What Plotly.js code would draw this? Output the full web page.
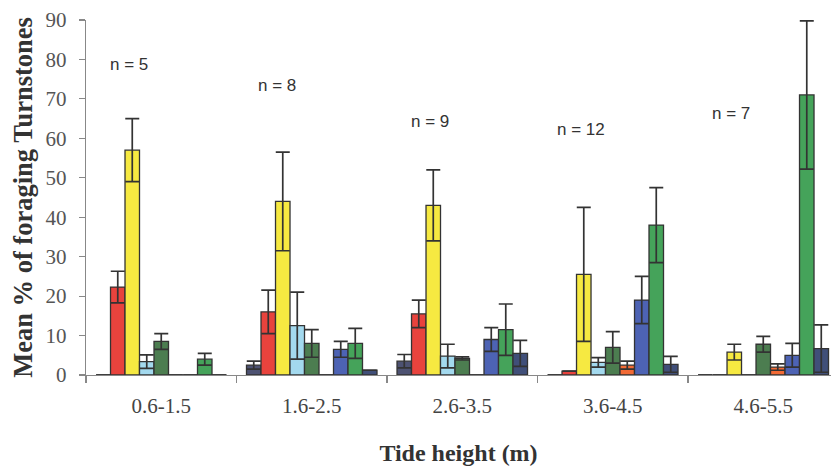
<!DOCTYPE html>
<html>
<head>
<meta charset="utf-8">
<script src="https://cdn.plot.ly/plotly-3.0.1.min.js"></script>
<style>html,body{margin:0;padding:0;background:#fff;}#chart{width:831px;height:469px;}</style>
</head>
<body>
<div id="chart"></div>
<script>
// Tide height classes
var categories = ['0.6-1.5', '1.6-2.5', '2.6-3.5', '3.6-4.5', '4.6-5.5'];
var sampleSizes = ['n = 5', 'n = 8', 'n = 9', 'n = 12', 'n = 7'];

// Mean % of foraging Turnstones per series (9 series per tide class)
var s1 = [0, 2.5, 3.5, 0, 0];
var s1Err = [0, 1, 1.7, 0, 0];
var s2 = [22.3, 16, 15.5, 1, 0];
var s2Err = [4, 5.5, 3.5, 0, 0];
var s3 = [57, 44, 43, 25.5, 5.8];
var s3Err = [8, 12.5, 9, 17, 2];
var s4 = [3.4, 12.5, 4.8, 3.2, 0];
var s4Err = [1.7, 8.5, 3, 1.2, 0];
var s5 = [8.5, 8, 4.2, 7, 7.8];
var s5Err = [2, 3.5, 0.4, 4, 2];
var s6 = [0, 0, 0, 2.5, 2];
var s6Err = [0, 0, 0, 1, 0.8];
var s7 = [0, 6.5, 9, 19, 5];
var s7Err = [0, 2, 3, 6, 3];
var s8 = [4, 8, 11.5, 38, 71];
var s8Err = [1.5, 3.8, 6.5, 9.5, 18.8];
var s9 = [0, 1.2, 5.5, 2.7, 6.7];
var s9Err = [0, 0, 3.3, 2, 6];

var seriesNames = ['Series 1', 'Series 2', 'Series 3', 'Series 4', 'Series 5', 'Series 6', 'Series 7', 'Series 8', 'Series 9'];
var seriesValues = [s1, s2, s3, s4, s5, s6, s7, s8, s9];
var seriesErrors = [s1Err, s2Err, s3Err, s4Err, s5Err, s6Err, s7Err, s8Err, s9Err];
var colors = ['#4d5272', '#e8433d', '#f6e941', '#a3d9ee', '#4c7d50', '#f26a35', '#4d63b4', '#45a35a', '#404f79'];

// annotation positions (category index offset, y value)
var nPosX = [-0.214, 0.769, 1.786, 2.789, 3.786];
var nPosY = [78.7, 73.4, 64.3, 62.3, 66.3];

var traces = seriesValues.map(function (vals, i) {
  return {
    type: 'bar',
    name: seriesNames[i],
    x: categories,
    y: vals,
    cliponaxis: false,
    marker: {color: colors[i], line: {color: '#333', width: 1.3}},
    error_y: {type: 'data', array: seriesErrors[i], visible: true, symmetric: true,
              color: '#333', thickness: 1.7, width: 7},
    hoverinfo: 'x+y+name'
  };
});

var serif = 'Liberation Serif, Times New Roman, serif';

var annotations = sampleSizes.map(function (t, i) {
  return {
    text: t, xref: 'x', yref: 'y', x: nPosX[i], y: nPosY[i],
    showarrow: false, xanchor: 'center', yanchor: 'middle',
    font: {family: 'Liberation Sans, Arial, sans-serif', size: 17, color: '#333'}
  };
});

var layout = {
  width: 831, height: 469,
  margin: {l: 86, r: 0, t: 20, b: 94, pad: 0},
  paper_bgcolor: '#fff', plot_bgcolor: '#fff',
  barmode: 'group', bargap: 0.133, bargroupgap: 0,
  showlegend: false,
  xaxis: {
    type: 'category', range: [-0.5, 4.45],
    showline: true, linecolor: '#888', linewidth: 1.2,
    ticks: 'outside', tickson: 'boundaries', ticklen: 7, tickcolor: '#888', tickwidth: 1.2,
    showgrid: false, zeroline: false,
    tickfont: {family: serif, size: 21, color: '#444'},
    ticklabelstandoff: 12,
    title: {text: '<b>Tide height (m)</b>', font: {family: serif, size: 24, color: '#333'}, standoff: 26}
  },
  yaxis: {
    range: [0, 90], dtick: 10, tick0: 0,
    showline: true, linecolor: '#888', linewidth: 1.2,
    ticks: 'outside', ticklen: 6, tickcolor: '#888', tickwidth: 1.2,
    showgrid: false, zeroline: false,
    tickfont: {family: serif, size: 21, color: '#555'},
    ticklabelstandoff: 8,
    title: {text: '<b>Mean % of foraging Turnstones</b>', font: {family: serif, size: 26.5, color: '#333'}, standoff: 5}
  },
  annotations: annotations
};

Plotly.newPlot('chart', traces, layout, {displayModeBar: false, staticPlot: true});
</script>
</body>
</html>
